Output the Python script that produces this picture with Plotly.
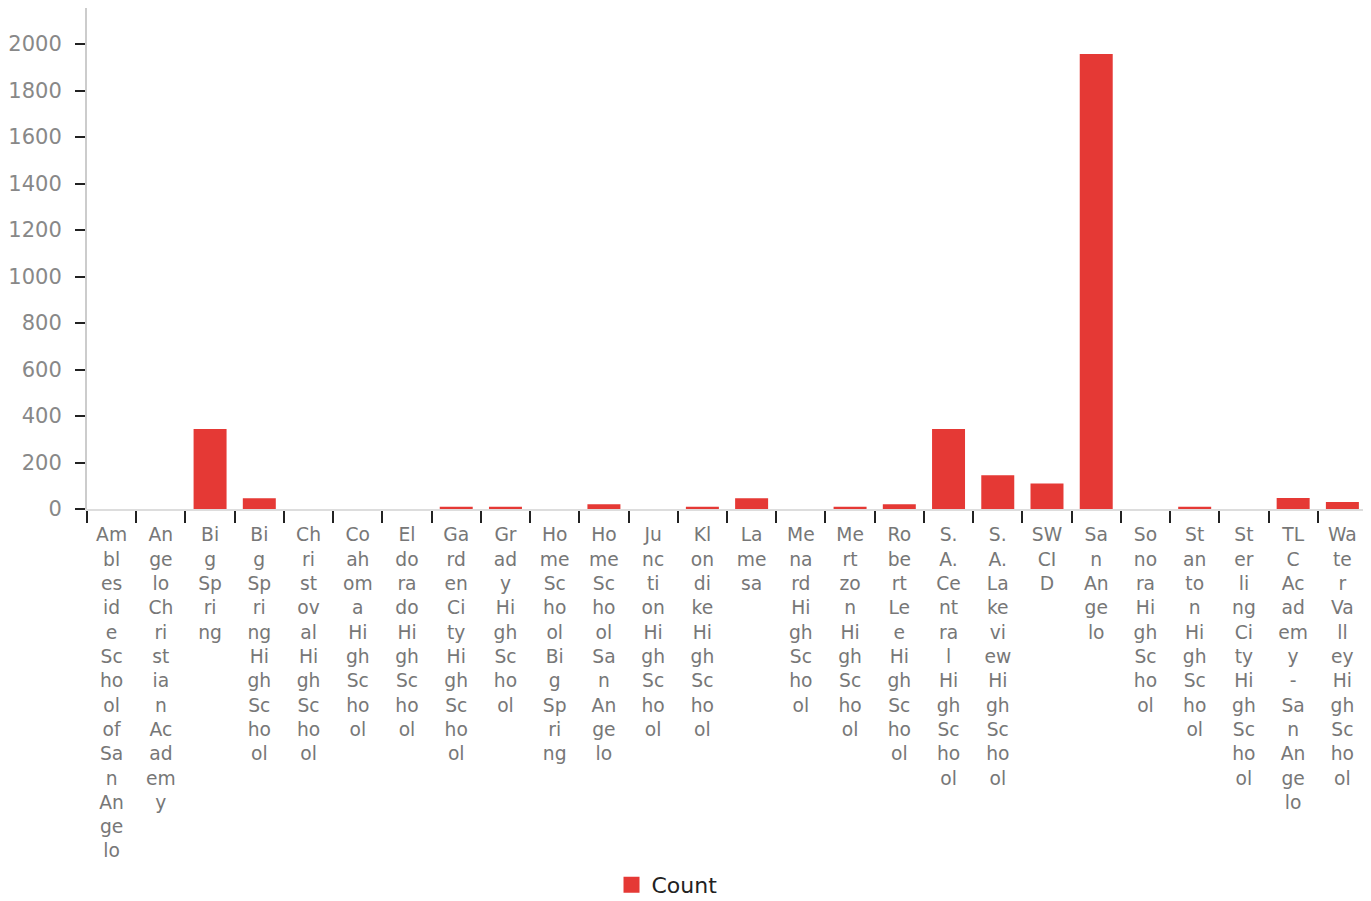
import plotly.graph_objects as go

categories = [
    "Ambleside School of San Angelo", "Angelo Christian Academy", "Big Spring",
    "Big Spring High School", "Christoval High School", "Coahoma High School",
    "Eldorado High School", "Garden City High School", "Grady High School",
    "Home School Big Spring", "Home School San Angelo", "Junction High School",
    "Klondike High School", "Lamesa", "Menard High School", "Mertzon High School",
    "Robert Lee High School", "S.A. Central High School", "S.A. Lakeview High School",
    "SWCID", "San Angelo", "Sonora High School", "Stanton High School",
    "Sterling City High School", "TLC Academy - San Angelo", "Water Valley High School",
]
counts = [0, 0, 344, 46, 0, 0, 0, 10, 10, 0, 20, 0, 10, 46, 0, 10, 20, 344, 145,
          110, 1957, 0, 10, 0, 47, 30]
y_ticks = [0, 200, 400, 600, 800, 1000, 1200, 1400, 1600, 1800, 2000]


def wrap(name, n=2):
    parts = []
    for w in name.split():
        parts += [w[i:i + n] for i in range(0, len(w), n)]
    return "<br>".join(parts)


tick_text = [wrap(c) for c in categories]

fig = go.Figure()
fig.add_trace(go.Bar(
    x=categories, y=counts, name="Count", marker_color="#e53935",
    marker_line_width=0, showlegend=False,
))
fig.add_trace(go.Scatter(
    x=[None], y=[None], mode="markers", name="Count",
    marker=dict(symbol="square", size=20, color="#e53935"),
))

fig.update_layout(
    width=1363, height=893,
    margin=dict(l=77, r=4, t=0, b=392),
    paper_bgcolor="white", plot_bgcolor="white",
    bargap=0.33,
    font=dict(family="DejaVu Sans", color="#777"),
    legend=dict(orientation="h", xref="container", yref="container",
                x=0.4835, xanchor="center", y=0.018, yanchor="middle",
                font=dict(size=22, color="#222"), itemwidth=30),
)
fig.update_xaxes(
    type="category", tickmode="array", tickvals=categories, ticktext=tick_text,
    tickson="boundaries", ticks="outside", ticklen=12, tickwidth=2,
    tickcolor="#222", tickangle=0, ticklabelstandoff=8,
    tickfont=dict(size=18.7, color="#777"),
    showline=True, linecolor="#ddd", linewidth=2, showgrid=False,
    zeroline=False,
)
fig.update_yaxes(
    range=[0, 2155], tickmode="array", tickvals=y_ticks,
    ticks="outside", ticklen=10, tickwidth=2, tickcolor="#222",
    ticklabelstandoff=9,
    tickfont=dict(size=21, color="#888"),
    showline=True, linecolor="#ccc", linewidth=2, showgrid=False,
    zeroline=False,
)

fig.write_html("out.html")
